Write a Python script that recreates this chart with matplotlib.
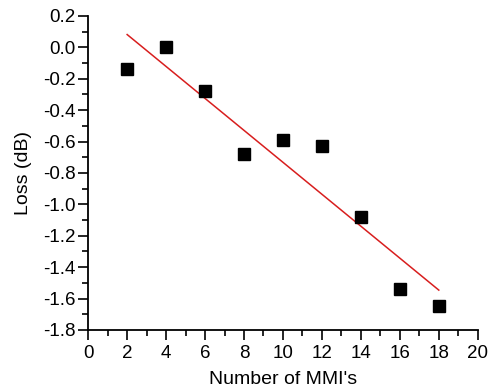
import numpy as np
import matplotlib
matplotlib.use("Agg")
import matplotlib.pyplot as plt
from matplotlib.ticker import MultipleLocator

# measured loss vs number of cascaded MMIs
n_mmi = [2, 4, 6, 8, 10, 12, 14, 16, 18]
loss_db = [-0.14, 0.0, -0.28, -0.68, -0.59, -0.63, -1.08, -1.54, -1.65]

plt.rcParams["font.family"] = ["Liberation Sans", "DejaVu Sans"]

fig = plt.figure(figsize=(4.9, 3.9), dpi=100)
ax = fig.add_axes([0.18, 0.154, 0.795, 0.805])

# linear fit (red line)
k, b = np.polyfit(n_mmi, loss_db, 1)
xf = np.array([n_mmi[0], n_mmi[-1]])
ax.plot(xf, k * xf + b, color="#d81e1e", lw=1.1, zorder=2)
ax.plot(n_mmi, loss_db, "s", color="black", ms=8.5, zorder=3)

ax.set_xlim(0, 20); ax.set_ylim(-1.8, 0.2)
ax.xaxis.set_major_locator(MultipleLocator(2)); ax.xaxis.set_minor_locator(MultipleLocator(1))
ax.yaxis.set_major_locator(MultipleLocator(0.2)); ax.yaxis.set_minor_locator(MultipleLocator(0.1))
ax.yaxis.set_major_formatter(matplotlib.ticker.FormatStrFormatter("%.1f"))

for s in ["top", "right"]: ax.spines[s].set_visible(False)
for s in ["left", "bottom"]: ax.spines[s].set_linewidth(1.3)
ax.tick_params(which="major", direction="out", length=7, width=1.2, labelsize=13.5, pad=2)
ax.tick_params(axis="x", which="major", pad=4)
ax.tick_params(which="minor", direction="out", length=4.5, width=1.2)

ax.set_xlabel("Number of MMI's", fontsize=14, labelpad=6)
ax.set_ylabel("Loss (dB)", fontsize=14, labelpad=8)

fig.savefig("out.png", dpi=100)
